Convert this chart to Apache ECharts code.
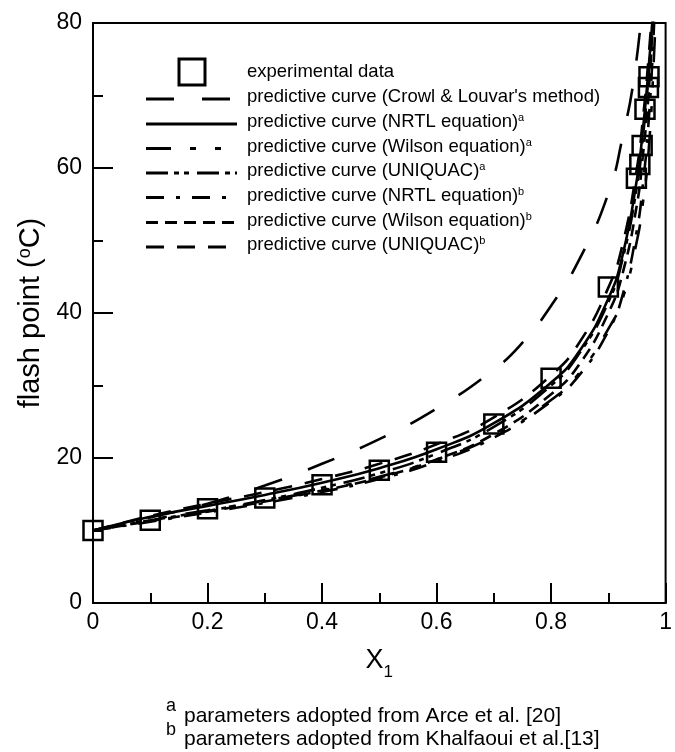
<!DOCTYPE html>
<html>
<head>
<meta charset="utf-8">
<script src="https://cdn.jsdelivr.net/npm/echarts@6/dist/echarts.min.js"></script>
<style>
html,body{margin:0;padding:0;background:#fff;overflow:hidden;}
#chart{width:675px;height:752px;}
</style>
</head>
<body>
<div id="chart"></div>
<script>
// ---- data ----
const xTicks = [0, 0.2, 0.4, 0.6, 0.8, 1];
const xTickLabels = ['0', '0.2', '0.4', '0.6', '0.8', '1'];
const yTicks = [0, 20, 40, 60, 80];
const yTickLabels = ['0', '20', '40', '60', '80'];

const expX = [0, 0.1, 0.2, 0.3, 0.4, 0.5, 0.6, 0.7, 0.8, 0.9, 0.949, 0.955, 0.959, 0.964, 0.970, 0.971];
const expY = [10, 11.4, 13.0, 14.5, 16.3, 18.3, 20.8, 24.7, 31.0, 43.6, 58.6, 60.5, 63.1, 68.1, 71.1, 72.6];

const crowlX = [0, 0.1, 0.2, 0.3, 0.4, 0.5, 0.6, 0.7, 0.75, 0.8, 0.85, 0.9, 0.925, 0.945, 0.96];
const crowlY = [10, 11.8, 13.7, 16.2, 19.2, 22.6, 26.8, 32.2, 35.9, 41.0, 47.5, 56.5, 64.3, 72.5, 83];

const curveX   = [0, 0.1, 0.2, 0.3, 0.4, 0.5, 0.6, 0.7, 0.8, 0.85, 0.9, 0.925, 0.95, 0.96, 0.97, 0.98, 0.99];
const nrtlA    = [10, 11.9, 13.4, 14.9, 16.6, 18.6, 21.2, 24.8, 30.4, 34.8, 42.0, 48.0, 58.5, 65.0, 73.5, 84, 100];
const wilsonA  = [10, 11.5, 12.8, 14.1, 15.6, 17.4, 19.8, 23.0, 28.0, 31.8, 37.8, 42.0, 50.0, 55.0, 62.0, 76, 95];
const uniquacA = [10, 11.4, 12.7, 14.2, 15.9, 17.9, 20.6, 24.3, 30.0, 34.5, 41.5, 47.5, 57.5, 64.0, 72.5, 84, 100];
const nrtlB    = [10, 11.2, 12.5, 13.8, 15.3, 17.1, 19.5, 22.8, 27.8, 31.5, 37.5, 42.5, 51.5, 57.5, 66.0, 80, 98];
const wilsonB  = [10, 11.3, 12.6, 14.0, 15.5, 17.3, 19.8, 23.3, 28.8, 33.0, 40.0, 45.5, 55.0, 61.5, 70.0, 84, 100];
const uniquacB = [10, 12.0, 13.7, 15.3, 17.1, 19.2, 21.9, 25.6, 31.4, 36.0, 43.5, 49.5, 60.0, 66.5, 75.0, 86, 100];

const legendNames = [
  'experimental data',
  "predictive curve (Crowl & Louvar's method)",
  'predictive curve (NRTL equation){sup|a}',
  'predictive curve (Wilson equation){sup|a}',
  'predictive curve (UNIQUAC){sup|a}',
  'predictive curve (NRTL equation){sup|b}',
  'predictive curve (Wilson equation){sup|b}',
  'predictive curve (UNIQUAC){sup|b}'
];
const footnotes = [
  ['a', 'parameters adopted from Arce et al. [20]'],
  ['b', 'parameters adopted from Khalfaoui et al.[13]']
];

// ---- styles ----
const FONT = 'Liberation Sans, Arial, Helvetica, sans-serif';
const dashes = {
  crowl: [28, 28],
  nrtlA: null,
  wilsonA: [25, 19, 6, 19, 6, 19],
  uniquacA: [22, 6, 5, 5, 5, 8],
  nrtlB: [18, 12, 4, 12],
  wilsonB: [12, 7],
  uniquacB: [18, 13]
};
const LW = 2.6;

function pairs(xs, ys) { return xs.map((x, i) => [x, ys[i]]); }
function lineSeries(name, xs, ys, dash) {
  return {
    name: name, type: 'line', data: pairs(xs, ys), smooth: 0.5,
    symbol: 'none', clip: true, silent: true, animation: false,
    lineStyle: { color: '#000', width: LW, type: dash || 'solid', cap: 'butt' },
    z: 2
  };
}

const chart = echarts.init(document.getElementById('chart'), null, { renderer: 'canvas', width: 675, height: 752 });

const legendOrder = [null, 'crowl', 'nrtlA', 'wilsonA', 'uniquacA', 'nrtlB', 'wilsonB', 'uniquacB'];
const rowY = [72, 97, 122, 146.5, 171, 195.5, 220.5, 245];
const graphics = [];
legendOrder.forEach((key, i) => {
  if (i === 0) {
    graphics.push({ type: 'rect', shape: { x: 179, y: rowY[0] - 13, width: 26, height: 26 },
      style: { fill: 'none', stroke: '#000', lineWidth: 3 } });
  } else {
    graphics.push({ type: 'line', shape: { x1: 146, y1: rowY[i] + 2, x2: 237, y2: rowY[i] + 2 },
      style: { stroke: '#000', lineWidth: 3, lineDash: dashes[key] || null } });
  }
  graphics.push({ type: 'text', x: 247, y: rowY[i],
    style: { text: legendNames[i], fill: '#000', font: '18.5px ' + FONT, verticalAlign: 'middle',
      rich: { sup: { fontSize: 11, fontFamily: FONT, verticalAlign: 'top', fill: '#000', padding: [0, 0, 6, 0] } } } });
});
footnotes.forEach((f, i) => {
  graphics.push({ type: 'text', x: 166, y: 706 + i * 24, style: { text: f[0], fill: '#000', font: '18px ' + FONT, verticalAlign: 'middle' } });
  graphics.push({ type: 'text', x: 184, y: 716 + i * 23, style: { text: f[1], fill: '#000', font: '21px ' + FONT, verticalAlign: 'middle' } });
});

const option = {
  animation: false,
  backgroundColor: '#fff',
  grid: { left: 93, top: 23, width: 580, height: 580, show: true, borderColor: '#000', borderWidth: 2, backgroundColor: 'transparent' },
  xAxis: {
    type: 'value', min: 0, max: 1, interval: 0.2,
    name: '{x|X}{s|1}', nameLocation: 'middle', nameGap: 44,
    nameTextStyle: { rich: {
      x: { fontSize: 27, fontFamily: FONT, color: '#000', lineHeight: 34, verticalAlign: 'top' },
      s: { fontSize: 17, fontFamily: FONT, color: '#000', verticalAlign: 'bottom' } } },
    axisLine: { show: true, onZero: false, lineStyle: { color: '#000', width: 2 } },
    axisTick: { show: true, inside: true, length: 20, lineStyle: { color: '#000', width: 2 } },
    minorTick: { show: true, splitNumber: 2, length: 10, lineStyle: { color: '#000', width: 2 } },
    splitLine: { show: false },
    axisLabel: { color: '#000', fontSize: 23, fontFamily: FONT, margin: 8, showMaxLabel: true,
      formatter: function (v) { const i = xTicks.findIndex(t => Math.abs(t - v) < 1e-9); return i >= 0 ? xTickLabels[i] : ''; } }
  },
  yAxis: {
    type: 'value', min: 0, max: 80, interval: 20,
    name: '{t|flash point (}{s|o}{t|C)}', nameLocation: 'middle', nameGap: 47, nameRotate: 90,
    nameTextStyle: { rich: {
      t: { fontSize: 29, fontFamily: FONT, color: '#000' },
      s: { fontSize: 18, fontFamily: FONT, color: '#000', verticalAlign: 'top' } } },
    axisLine: { show: true, onZero: false, lineStyle: { color: '#000', width: 2 } },
    axisTick: { show: true, inside: true, length: 20, lineStyle: { color: '#000', width: 2 } },
    minorTick: { show: true, splitNumber: 2, length: 10, lineStyle: { color: '#000', width: 2 } },
    splitLine: { show: false },
    axisLabel: { color: '#000', fontSize: 23, fontFamily: FONT, margin: 11,
      formatter: function (v) { const i = yTicks.indexOf(v); return i >= 0 ? yTickLabels[i] : ''; } }
  },
  series: [
    lineSeries('crowl', crowlX, crowlY, dashes.crowl),
    lineSeries('nrtlA', curveX, nrtlA, null),
    lineSeries('wilsonA', curveX, wilsonA, dashes.wilsonA),
    lineSeries('uniquacA', curveX, uniquacA, dashes.uniquacA),
    lineSeries('nrtlB', curveX, nrtlB, dashes.nrtlB),
    lineSeries('wilsonB', curveX, wilsonB, dashes.wilsonB),
    lineSeries('uniquacB', curveX, uniquacB, dashes.uniquacB),
    {
      name: 'experimental data', type: 'scatter', data: pairs(expX, expY),
      symbol: 'rect', symbolSize: 19, silent: true, clip: false,
      itemStyle: { color: 'rgba(0,0,0,0)', borderColor: '#000', borderWidth: 2.5, opacity: 1 },
      z: 5
    }
  ],
  graphic: graphics
};
chart.setOption(option);
</script>
</body>
</html>
